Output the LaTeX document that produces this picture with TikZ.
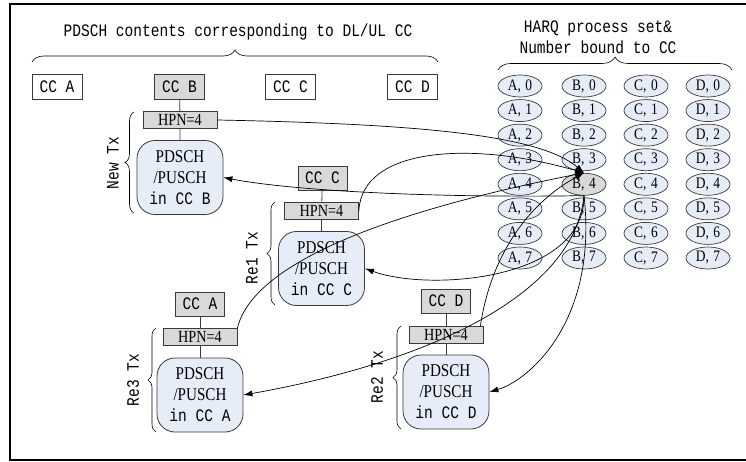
\documentclass[tikz,border=0pt]{standalone}
\usepackage{fontspec}
\setmainfont{Liberation Serif}
\newfontfamily\monof[FakeStretch=0.83]{Liberation Mono}
\newfontfamily\condf[FakeStretch=0.84]{Liberation Serif}
\usetikzlibrary{arrows.meta,decorations.pathreplacing,shapes.geometric}
\definecolor{blueF}{HTML}{E7EDF8}
\definecolor{grayF}{HTML}{D9D9D9}
\definecolor{edgeC}{HTML}{3A3A3A}
\newcommand{\mt}{\monof\fontsize{17.5}{21}\selectfont}
\begin{document}
\begin{tikzpicture}[x=1pt,y=-1pt,
  ccbox/.style={draw=edgeC, line width=0.8pt, minimum width=50pt, minimum height=25pt, inner sep=0pt, font=\mt},
  ccg/.style={ccbox, fill=grayF, minimum width=49pt, minimum height=24pt},
  hpn/.style={draw=edgeC, fill=grayF, line width=0.8pt, minimum width=74pt, minimum height=17pt, inner sep=0pt, font=\condf\fontsize{17}{17}\selectfont},
  pd/.style={draw=edgeC, fill=blueF, line width=0.8pt, rounded corners=18pt, minimum width=86pt, minimum height=74pt, inner sep=0pt, align=center, font=\condf\fontsize{18}{21}\selectfont},
  hp/.style={ellipse, draw=edgeC, line width=0.7pt, minimum width=44pt, minimum height=22pt, inner sep=0pt, font=\condf\fontsize{16}{16}\selectfont},
  lbl/.style={font=\mt, align=center, inner sep=0pt},
  brc/.style={decorate, decoration={brace, amplitude=#1}, line width=0.6pt},
  conn/.style={line width=0.7pt, -{Latex[length=9pt,width=6pt]}},
  link/.style={line width=0.8pt, draw=edgeC}
]
\useasboundingbox (0,0) rectangle (746,462);
\draw[line width=2pt] (746,4) -- (9.5,4) -- (9.5,460) -- (746,460);

% left header
\node[lbl] (title) at (238,32) {PDSCH contents corresponding to DL/UL CC};
\draw[brc=12pt] (32,62) -- (438,62);
\node[ccbox] (ccA) at (57,86.5) {CC A};
\node[ccg, minimum width=50pt, minimum height=25pt] (ccB) at (179.5,86.5) {CC B};
\node[ccbox] (ccC) at (290.5,86.5) {CC C};
\node[ccbox] (ccD) at (412.5,86.5) {CC D};

% New Tx (CC B)
\node[hpn] (hpnB) at (180,120) {HPN=4};
\node[pd] (pdB) at (180,177.5) {PDSCH\\/PUSCH\\{\mt in CC B}};
\draw[link] (ccB) -- (hpnB) -- (pdB);
\draw[brc=9pt] (134,213) -- (134,112);
\node[lbl, rotate=90] (txB) at (113,163) {New Tx};

% Re1 Tx (CC C)
\node[ccg] (ccC2) at (322.5,178) {CC C};
\node[hpn] (hpnC) at (321.5,210.5) {HPN=4};
\node[pd] (pdC) at (321.5,268.5) {PDSCH\\/PUSCH\\{\mt in CC C}};
\draw[link] (ccC2) -- (hpnC) -- (pdC);
\draw[brc=8pt] (275,305) -- (275,202);
\node[lbl, rotate=90] (txC) at (252,258) {Re1 Tx};

% Re3 Tx (CC A)
\node[ccg] (ccA2) at (200,304) {CC A};
\node[hpn] (hpnA) at (200,337) {HPN=4};
\node[pd] (pdA) at (200,395) {PDSCH\\/PUSCH\\{\mt in CC A}};
\draw[link] (ccA2) -- (hpnA) -- (pdA);
\draw[brc=8pt] (156,432) -- (156,328);
\node[lbl, rotate=90] (txA) at (133,380) {Re3 Tx};

% Re2 Tx (CC D)
\node[ccg] (ccD2) at (446,301) {CC D};
\node[hpn] (hpnD) at (446,335) {HPN=4};
\node[pd] (pdD) at (446,392) {PDSCH\\/PUSCH\\{\mt in CC D}};
\draw[link] (ccD2) -- (hpnD) -- (pdD);
\draw[brc=8pt] (401,429) -- (401,326);
\node[lbl, rotate=90] (txD) at (377,377) {Re2 Tx};

% right header
\node[lbl] (harq) at (598,37.5) {HARQ process set\&\\Number bound to CC};
\draw[brc=13pt] (498,70) -- (732,70);

\foreach \c/\x in {A/520,B/584,C/646,D/708}{
  \foreach \r in {0,...,7}{
    \def\fc{blueF}
    \ifnum\r=4 \if\c B\def\fc{grayF}\fi\fi
    \node[hp, fill=\fc] (\c\r) at (\x,{86+\r*24.57}) {\c,\hspace{4.5pt}\r};
  }
}

% connectors into B,4
\draw[conn] (hpnB.east) .. controls (420,124) and (540,135) .. (B4.north);
\draw[conn] (hpnC.east) .. controls (362,148) and (470,140) .. (B4.north);
\draw[conn] (hpnA.north east) .. controls (255,255) and (420,205) .. (B4.north);
\draw[conn] ([xshift=-3pt]hpnD.north east) .. controls (490,260) and (525,205) .. (B4.north);

% connectors out of B,4
\draw[conn] (B4.south) .. controls (450,198) and (300,192) .. (pdB.east);
\draw[conn] (B4.south) .. controls (585,280) and (430,292) .. (pdC.east);
\draw[conn] (B4.south) .. controls (575,290) and (440,360) .. (pdA.east);
\draw[conn] (B4.south) .. controls (598,320) and (530,380) .. (pdD.east);
\end{tikzpicture}
\end{document}
